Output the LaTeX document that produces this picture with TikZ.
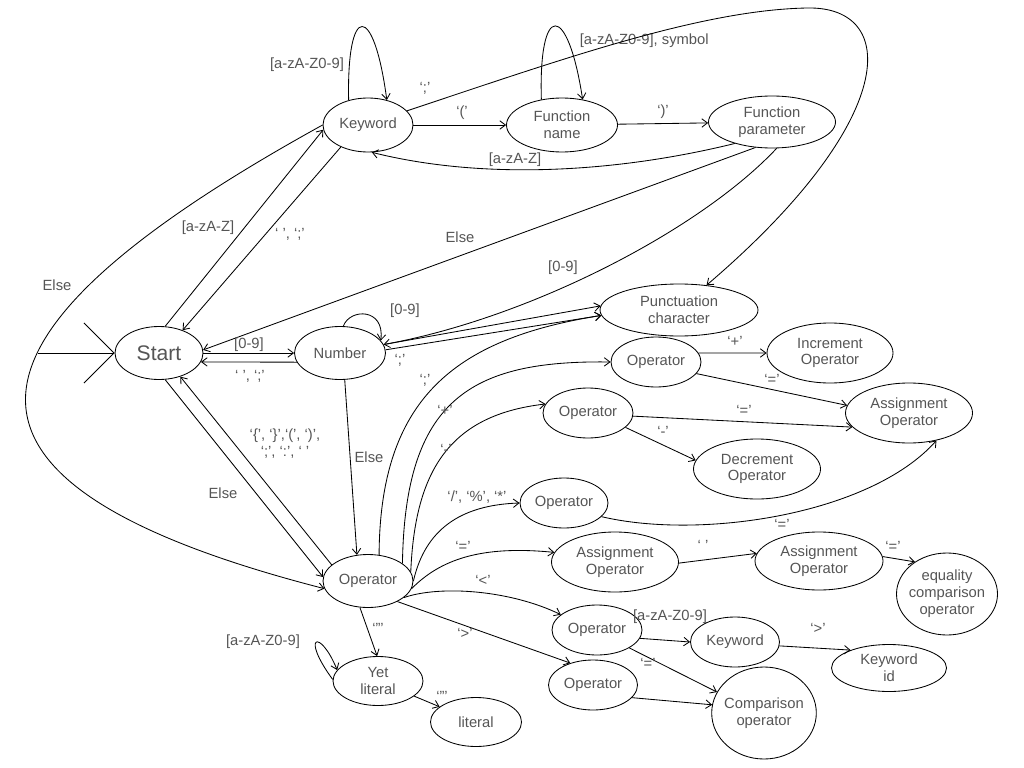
\documentclass[tikz,border=0pt]{standalone}
\usepackage{fontspec}
\setmainfont{Liberation Sans}
\usepackage{tikz}
\usetikzlibrary{shapes.geometric,arrows.meta}
\definecolor{txt}{HTML}{555555}
\tikzset{
  state/.style={ellipse, draw=black, line width=0.6pt, inner sep=0pt, align=center,
    text=txt, font=\fontsize{10.5}{12}\selectfont},
  sz/.style 2 args={minimum width=#1*0.025cm, minimum height=#2*0.025cm},
  trans/.style={->, line width=0.6pt},
  lab/.style={text=txt, font=\fontsize{10.5}{12}\selectfont, inner sep=1pt}
}
\begin{document}
\begin{tikzpicture}[x=0.025cm, y=-0.025cm, >={Straight Barb[length=4pt,width=6pt]}]
  \useasboundingbox (0,0) rectangle (1024,768);

  % states
  \node[state, sz={88}{53}, font=\fontsize{15}{18}\selectfont] (start) at (159,353) {Start};
  \node[state, sz={90}{54}] (kw) at (368,125) {Keyword};
  \node[state, sz={111}{54}] (fname) at (562,125) {Function\\name};
  \node[state, sz={127}{52}] (fparam) at (772,122) {Function\\parameter};
  \node[state, sz={91}{53}] (num) at (340,353) {Number};
  \node[state, sz={158}{52}] (punct) at (679,310) {Punctuation\\character};
  \node[state, sz={90}{53}] (op) at (368,581) {Operator};
  \node[state, sz={90}{50}] (opplus) at (656,362) {Operator};
  \node[state, sz={126}{60}] (inc) at (830,353) {Increment\\Operator};
  \node[state, sz={127}{60}] (assign) at (909,413) {Assignment\\Operator};
  \node[state, sz={90}{50}] (opminus) at (588,413) {Operator};
  \node[state, sz={127}{60}] (dec) at (757,469) {Decrement\\Operator};
  \node[state, sz={88}{50}] (opmul) at (564,503) {Operator};
  \node[state, sz={127}{60}] (assigneq) at (615,562) {Assignment\\Operator};
  \node[state, sz={128}{58}] (assignsp) at (819,561) {Assignment\\Operator};
  \node[state, sz={101}{82}, inner sep=-2pt] (eqcmp) at (947,594) {equality\\comparison\\operator};
  \node[state, sz={90}{50}] (oplt) at (597,630) {Operator};
  \node[state, sz={89}{50}] (kwlt) at (735,642) {Keyword};
  \node[state, sz={115}{47}] (kwid) at (889,668) {Keyword\\id};
  \node[state, sz={89}{50}] (opgt) at (593,685) {Operator};
  \node[state, sz={102}{92}, inner sep=-2pt] (cmp) at (764,713) {Comparison\\operator};
  \node[state, sz={90}{49}] (yet) at (378,681) {Yet\\literal};
  \node[state, sz={91}{49}] (lit) at (476,722) {literal};

  % entry
  \coordinate (entry) at (38,353);
  \draw[line width=0.6pt, -{Straight Barb[length=0.75cm, width=1.5cm]}] (entry) -- (start.west);

  % keyword and function
  \draw[trans] (kw.128) .. controls +(-2,-98) and +(-13,-98) .. (kw.53)
    node[lab] at (307,65) {[a-zA-Z0-9]};
  \draw[trans] (fname.129) .. controls +(-3,-98) and +(-15,-98) .. (fname.51)
    node[lab, anchor=west] at (578,41) {[a-zA-Z0-9], symbol};
  \draw[trans] (kw) -- (fname) node[lab] at (462,113) {`('};
  \draw[trans] (fname) -- (fparam) node[lab] at (663,112) {`)'};
  \draw[trans] (fparam.210) .. controls (615,173) and (482,180) .. (kw.-82)
    node[lab] at (515,160) {[a-zA-Z]};
  \draw[trans] (fparam.-123) -- (start.4) node[lab] at (460,237) {Else};
  \draw[trans] (fparam.-80) .. controls (700,230) and (530,318) .. (num.11)
    node[lab] at (563,268) {[0-9]};
  \draw[trans] (kw.20) .. controls (560,60) and (700,10) .. (807,8)
    .. controls (900,6) and (900,120) .. (punct.42)
    node[lab] at (425,88) {`;'};

  % start
  \draw[trans] (start.77) -- (kw.186) node[lab] at (208,228) {[a-zA-Z]};
  \draw[trans] (kw.-141) -- (start.44) node[lab] at (290,234) {` ', `;'};
  \draw[trans] (start.east) -- (num.west) node[lab] at (249,345) {[0-9]};
  \draw[trans] (num.192) -- (start.-12) node[lab] at (250,376) {` ', `;'};
  \draw[trans] (start.-77) -- (op.175) node[lab] at (223,493) {Else};
  \draw[trans] (op.156) -- (start.-48)
    node[lab, align=center] at (285,444) {`\{', `\}',`(', `)',\\`;', `:', ` '};
  \draw[trans] (kw.180) .. controls (-40,325) and (-106,478) .. (op.190)
    node[lab] at (57,285) {Else};

  % number
  \draw[trans] (num.83) .. controls (350,308) and (385,308) .. (num.17)
    node[lab] at (405,311) {[0-9]};
  \draw[trans] (num.11) -- (punct.177);
  \draw[trans] (num.4) -- (punct.184) node[lab] at (400,360) {`;'};
  \draw[trans] (num.-80) -- (op.113) node[lab] at (369,457) {Else};

  % operator
  \draw[trans] (op.67) .. controls (380,400) and (453,339) .. (punct.184)
    node[lab] at (425,380) {`;'};
  \draw[trans] (op.27) .. controls (405,400) and (470,360) .. (opplus.west)
    node[lab] at (445,410) {`+'};
  \draw[trans] (op.12) .. controls (415,470) and (450,415) .. (opminus.168)
    node[lab] at (446,449) {`-'};
  \draw[trans] (op.0) .. controls (425,530) and (460,505) .. (opmul.west)
    node[lab] at (477,497) {`/', `\%', `*'};
  \draw[trans] (op.-10) .. controls (440,560) and (480,545) .. (assigneq.171)
    node[lab] at (463,546) {`='};
  \draw[trans] (op.-25) .. controls (440,585) and (510,590) .. (oplt.157)
    node[lab] at (483,580) {`<'};
  \draw[trans] (op.-35) -- (opgt.136) node[lab] at (465,633) {`>'};
  \draw[trans] (op.-107) -- (yet.92) node[lab] at (378,628) {`"'};
  \draw[trans] (yet.178) .. controls (300,635) and (320,628) .. (yet.165)
    node[lab] at (263,642) {[a-zA-Z0-9]};
  \draw[trans] (yet) -- (lit) node[lab] at (442,696) {`"'};

  % arithmetic
  \draw[trans] (opplus.12) -- (inc.west) node[lab] at (735,341) {`+'};
  \draw[trans] (opplus.-16) -- (assign.173) node[lab] at (772,379) {`='};
  \draw[trans] (opminus.-4) -- (assign.194) node[lab] at (744,410) {`='};
  \draw[trans] (opminus.-21) -- (dec.172) node[lab] at (663,431) {`-'};
  \draw[trans] (opmul.-20) .. controls (700,540) and (870,515) .. (assign.-45)
    node[lab] at (782,524) {`='};

  % assignment and comparison
  \draw[trans] (assigneq.-1) -- (assignsp.173) node[lab] at (703,545) {` '};
  \draw[trans] (assignsp.4) -- (eqcmp.135) node[lab] at (893,546) {`='};
  \draw[trans] (oplt.-11) -- (kwlt.west) node[lab] at (670,617) {[a-zA-Z0-9]};
  \draw[trans] (oplt.-29) -- (cmp.156) node[lab] at (648,663) {`='};
  \draw[trans] (kwlt.-5) -- (kwid.155) node[lab] at (818,628) {`>'};
  \draw[trans] (opgt.-18) -- (cmp.171);
\end{tikzpicture}
\end{document}
